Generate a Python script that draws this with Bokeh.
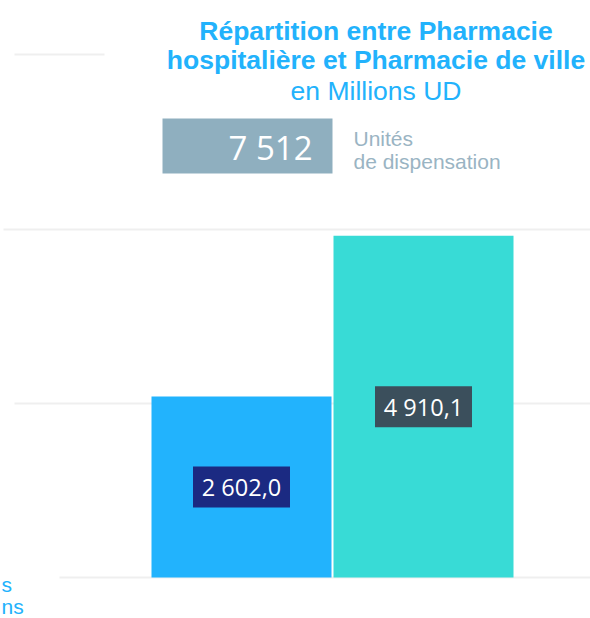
from bokeh.plotting import figure
from bokeh.models import Range1d, ColumnDataSource, Label, BoxAnnotation
from bokeh.core.properties import value
from bokeh.embed import file_html
from bokeh.resources import INLINE

# ---- data ----
categories = ["Pharmacie hospitalière", "Pharmacie de ville"]
values = [2602.0, 4910.1]
bar_colors = ["#22b3fd", "#38dbd6"]
label_box_colors = ["#1b2a82", "#3b4f5c"]
grid_levels = [0, 2500, 5000]
title_lines = ["Répartition entre Pharmacie", "hospitalière et Pharmacie de ville"]
subtitle = "en Millions UD"
total_caption = ["Unités", "de dispensation"]
left_fragments = ["s", "ns"]

def fr(v):
    s = f"{v:,.1f}"
    return s.replace(",", " ").replace(".", ",")

total = sum(values)
total_text = f"{round(total):,}".replace(",", " ")
labels = [fr(v) for v in values]

# ---- layout (screen -> data helpers for decorations) ----
W, H = 590, 618
PX_PER_CAT = 182.0
CAT0_PX = 241.0
BASE_PX = 577.0
K = 2500.0 / 174.0  # data units per pixel
X0 = -CAT0_PX / PX_PER_CAT
X1 = (W - CAT0_PX) / PX_PER_CAT
Y0 = -(H - BASE_PX) * K
Y1 = BASE_PX * K

def sx(px):
    return X0 + px / PX_PER_CAT

def sy(py):
    return Y1 - py * K

p = figure(width=W, height=H, output_backend="svg", toolbar_location=None,
           x_range=Range1d(X0, X1), y_range=Range1d(Y0, Y1),
           min_border=0, min_border_left=0, min_border_right=0,
           min_border_top=0, min_border_bottom=0)
p.axis.visible = False
p.grid.visible = False
p.outline_line_color = None
p.background_fill_color = "white"
p.border_fill_color = "white"

# gridlines (different left starts as in the reference)
grid_start_px = [59, 14, 3]
p.segment(x0=[sx(v) for v in grid_start_px], y0=grid_levels,
          x1=[X1] * len(grid_levels), y1=grid_levels,
          line_color="#efefef", line_width=2)
# small decorative line top-left
p.segment(x0=[sx(14)], y0=[sy(54)], x1=[sx(104)], y1=[sy(54)],
          line_color="#efefef", line_width=2)

xs = list(range(len(categories)))
src = ColumnDataSource(dict(x=xs, top=values, color=bar_colors,
                            mid=[v / 2 for v in values], label=labels,
                            lbox=label_box_colors))
p.vbar(x="x", top="top", bottom=0, width=180 / PX_PER_CAT, fill_color="color",
       line_color=None, source=src)
p.rect(x="x", y="mid", width=97, height=41, width_units="screen", height_units="screen",
       fill_color="lbox", line_color=None, source=src)
p.text(x="x", y="mid", text="label", text_align="center", text_baseline="middle",
       text_color="white", text_font=value("Open Sans"), text_font_size="23.5px", source=src)

# title
title_color = "#22b2fc"
for line, base in zip(title_lines, [30, 59]):
    p.add_layout(Label(x=sx(375.5), y=sy(base), text=line, text_align="center",
                       text_baseline="alphabetic", text_color=title_color,
                       text_font="Liberation Sans", text_font_size="26.5px",
                       text_font_style="bold"))
p.add_layout(Label(x=sx(375.5), y=sy(90), text=subtitle, text_align="center",
                   text_baseline="alphabetic", text_color=title_color,
                   text_font="Liberation Sans", text_font_size="26.5px"))

# total box
p.add_layout(BoxAnnotation(left=sx(162), right=sx(332), top=sy(118), bottom=sy(173),
                           fill_color="#8fafbf", fill_alpha=1.0, line_color=None))
p.add_layout(Label(x=sx(312), y=sy(147), text=total_text, text_align="right",
                   text_baseline="alphabetic", text_color="white",
                   text_font="Open Sans", text_font_size="33px"))
for line, base in zip(total_caption, [138, 161]):
    p.add_layout(Label(x=sx(353), y=sy(base), text=line, text_align="left",
                       text_baseline="alphabetic", text_color="#9ab4c3",
                       text_font="Liberation Sans", text_font_size="21px"))

# cropped left fragments
for frag, base in zip(left_fragments, [584, 606]):
    p.add_layout(Label(x=sx(1), y=sy(base), text=frag, text_align="left",
                       text_baseline="alphabetic", text_color=title_color,
                       text_font="Liberation Sans", text_font_size="21px"))

open("out.html", "w").write(file_html(p, INLINE))
